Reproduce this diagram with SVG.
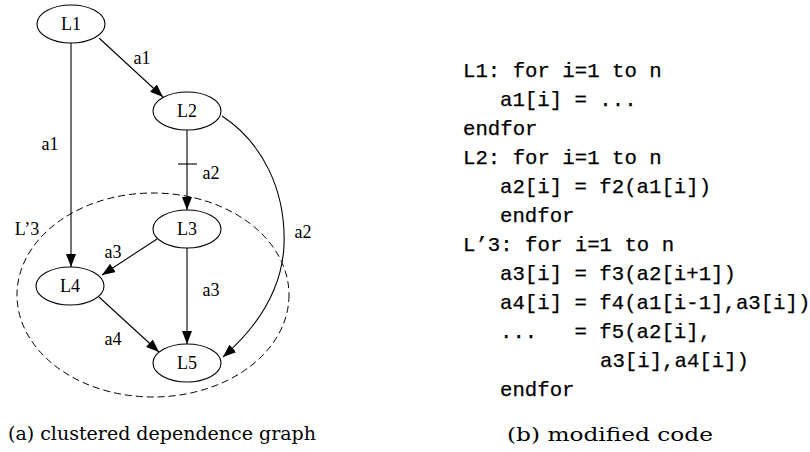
<svg xmlns="http://www.w3.org/2000/svg" width="810" height="452" viewBox="0 0 810 452">
<style>
.node ellipse{fill:#fff;stroke:#000;stroke-width:1.1}
.node text,.lbl{font-family:"Liberation Serif","Times New Roman",serif;font-size:18px;fill:#000;text-anchor:middle}
.edge{fill:none;stroke:#000;stroke-width:1.1}
.cluster{fill:none;stroke:#000;stroke-width:1;stroke-dasharray:7 4}
.code{font-family:"Liberation Mono","Courier New",monospace;font-size:20.7px;fill:#000;stroke:#000;stroke-width:0.25;white-space:pre}
.cap{font-family:"DejaVu Serif","Liberation Serif",serif;font-size:18px;fill:#000}
</style>
<defs>
<marker id="ah" markerUnits="userSpaceOnUse" markerWidth="14" markerHeight="10" refX="13" refY="5" orient="auto">
<path d="M0,0 L13,5 L0,10 z" fill="#000"/>
</marker>
</defs>
<g id="cluster-L3">
<ellipse class="cluster" cx="153" cy="295" rx="136" ry="102"/>
<text class="lbl" x="27" y="235">L’3</text>
</g>
<g id="connectors">
<line class="edge" x1="99" y1="38" x2="163" y2="97" marker-end="url(#ah)"/>
<line class="edge" x1="71" y1="43" x2="71" y2="267" marker-end="url(#ah)"/>
<line class="edge" x1="187" y1="130" x2="187" y2="210" marker-end="url(#ah)"/>
<line class="edge" x1="178" y1="164" x2="197" y2="164"/>
<path class="edge" d="M222,116 C262,142 286,190 284,245 C282,292 256,328 223,357" marker-end="url(#ah)"/>
<line class="edge" x1="157" y1="239" x2="102" y2="275" marker-end="url(#ah)"/>
<line class="edge" x1="187" y1="248" x2="187" y2="344" marker-end="url(#ah)"/>
<line class="edge" x1="99" y1="297" x2="159" y2="352" marker-end="url(#ah)"/>
<text class="lbl" x="142" y="64">a1</text>
<text class="lbl" x="50" y="150">a1</text>
<text class="lbl" x="211" y="179">a2</text>
<text class="lbl" x="303" y="238">a2</text>
<text class="lbl" x="113" y="258">a3</text>
<text class="lbl" x="211" y="296">a3</text>
<text class="lbl" x="113" y="345">a4</text>
</g>
<g id="L1" class="node"><ellipse cx="71" cy="24" rx="34" ry="19"/><text x="71" y="30">L1</text></g>
<g id="L2" class="node"><ellipse cx="187" cy="111" rx="34" ry="19"/><text x="187" y="117">L2</text></g>
<g id="L3" class="node"><ellipse cx="187" cy="229" rx="34" ry="19"/><text x="187" y="235">L3</text></g>
<g id="L4" class="node"><ellipse cx="70" cy="286" rx="34" ry="19"/><text x="70" y="292">L4</text></g>
<g id="L5" class="node"><ellipse cx="187" cy="363" rx="34" ry="19"/><text x="187" y="369">L5</text></g>
<g id="code">
<text class="code" x="463" y="77">L1: for i=1 to n</text>
<text class="code" x="500" y="106">a1[i] = ...</text>
<text class="code" x="463" y="135">endfor</text>
<text class="code" x="463" y="164">L2: for i=1 to n</text>
<text class="code" x="500" y="193">a2[i] = f2(a1[i])</text>
<text class="code" x="500" y="222">endfor</text>
<text class="code" x="463" y="251">L’3: for i=1 to n</text>
<text class="code" x="500" y="280">a3[i] = f3(a2[i+1])</text>
<text class="code" x="500" y="309">a4[i] = f4(a1[i-1],a3[i])</text>
<text class="code" x="500" y="338">...   = f5(a2[i],</text>
<text class="code" x="600" y="367">a3[i],a4[i])</text>
<text class="code" x="500" y="396">endfor</text>
</g>
<text class="cap" x="8" y="440" textLength="308" lengthAdjust="spacingAndGlyphs">(a) clustered dependence graph</text>
<text class="cap" x="507" y="441" textLength="206" lengthAdjust="spacingAndGlyphs">(b) modified code</text>
</svg>
